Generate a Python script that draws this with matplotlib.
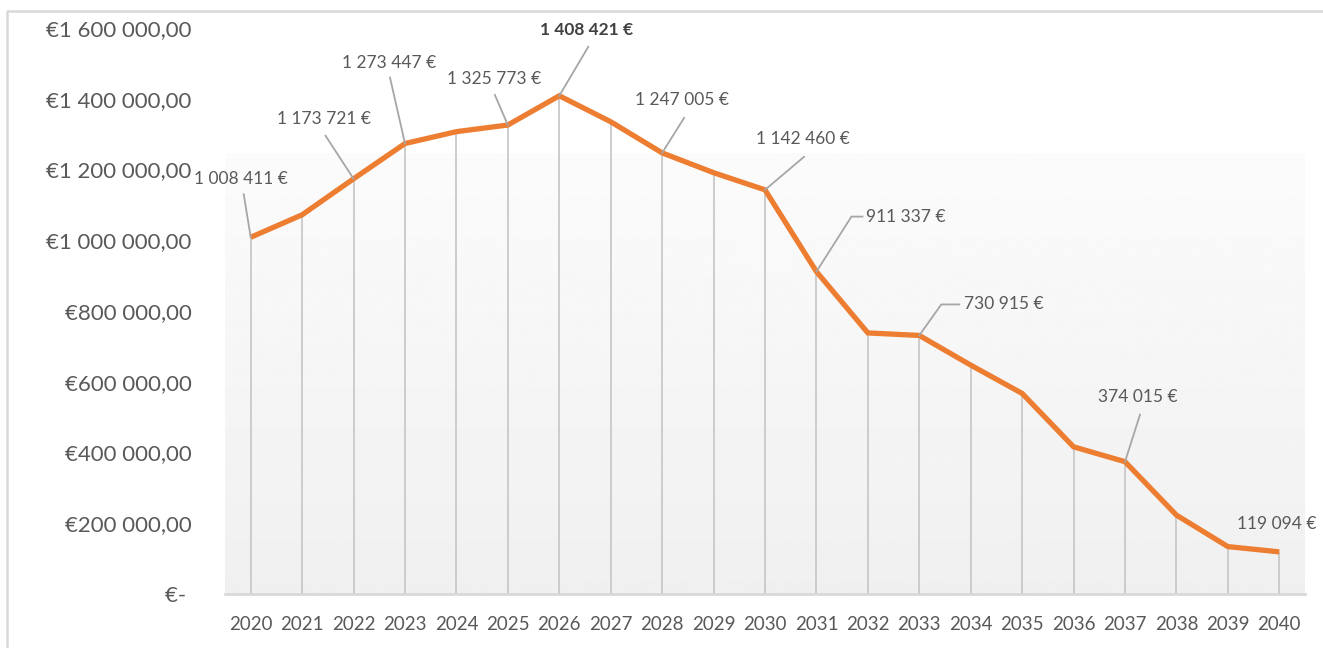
import numpy as np
import matplotlib
matplotlib.use("Agg")
import matplotlib.pyplot as plt
from matplotlib.lines import Line2D
from matplotlib.ticker import FuncFormatter

years = list(range(2020, 2041))
values = [1008411, 1072000, 1173721, 1273447, 1307000, 1325773, 1408421,
          1335000, 1247005, 1191000, 1142460, 911337, 738000, 730915,
          647000, 567000, 416000, 374015, 223000, 134000, 119094]
labeled_years = [2020, 2022, 2023, 2025, 2026, 2028, 2030, 2031, 2033, 2037, 2040]
peak_year = 2026

# label placement in pixels relative to the point: (text dx, text dy, ha, leader vertices)
label_style = {
    2020: (-10, 58, 'center', [(-7, 43)]),
    2022: (-30, 60, 'center', [(-28, 43)]),
    2023: (-16, 81, 'center', [(-15, 66)]),
    2025: (-14, 46, 'center', [(-13, 30)]),
    2026: (27, 66, 'center', [(29, 49)]),
    2028: (20, 53, 'center', [(22, 35)]),
    2030: (38, 51, 'center', [(39, 33)]),
    2031: (50, 55, 'left', [(35, 55), (46, 55)]),
    2033: (45, 31, 'left', [(22, 31), (40, 31)]),
    2037: (13, 65, 'center', [(15, 47)]),
    2040: (-3, 28, 'center', []),
}

ORANGE = '#ED7D31'
TEXT = '#595959'
GRID = '#c9c9c9'

plt.rcParams['font.family'] = ['Lato', 'DejaVu Sans']


def euro_axis(v, pos):
    if v == 0:
        return '€- '
    return '€' + f"{v:,.2f}".replace(',', ' ').replace('.', ',')


def euro_label(v):
    return f"{v:,}".replace(',', ' ') + ' €'


def main():
    fig = plt.figure(figsize=(13.23, 6.48), dpi=100)
    # chart frame: only the top and left edges show in the crop
    fig.lines.append(Line2D([7, 7, 1323], [-5, 637, 637], transform=None,
                            color='#d9d9d9', linewidth=1.8))
    ax = fig.add_axes([225 / 1323, 54 / 648, 1080 / 1323, 566 / 648])
    ax.set_xlim(2019.5, 2040.5)
    ax.set_ylim(0, 1600000)

    # soft gradient behind the plot
    grad = np.linspace(0.94, 0.985, 256).reshape(-1, 1)
    ax.imshow(grad, cmap='gray', vmin=0, vmax=1, aspect='auto', origin='lower',
              extent=[2019.5, 2040.5, 0, 1245000], zorder=0)

    ax.vlines(years, 0, values, color=GRID, linewidth=1.3, zorder=1)
    ax.plot(years, values, color=ORANGE, linewidth=3.8, solid_joinstyle='miter',
            solid_capstyle='butt', zorder=3)

    for s in ['top', 'right', 'left']:
        ax.spines[s].set_visible(False)
    ax.spines['bottom'].set_color('#d9d9d9')
    ax.spines['bottom'].set_linewidth(2)
    ax.set_xticks(years)
    ax.set_xticklabels([str(y) for y in years])
    ax.set_yticks(np.arange(0, 1600001, 200000))
    ax.yaxis.set_major_formatter(FuncFormatter(euro_axis))
    ax.tick_params(axis='x', length=0, pad=16, labelsize=13.5, labelcolor=TEXT)
    ax.tick_params(axis='y', length=0, pad=24, labelsize=16, labelcolor=TEXT)

    for yr in labeled_years:
        v = values[years.index(yr)]
        px, py = ax.transData.transform((yr, v))
        tx, ty, ha, leader = label_style[yr]
        bold = yr == peak_year
        fig.text((px + tx) / fig.bbox.width, (py + ty) / fig.bbox.height, euro_label(v),
                 ha=ha, va='center', fontsize=12.5, color='#404040' if bold else TEXT,
                 fontweight='bold' if bold else 'normal')
        if leader:
            xs = [px] + [px + d[0] for d in leader]
            ys = [py] + [py + d[1] for d in leader]
            fig.lines.append(Line2D(xs, ys, transform=None, color='#a6a6a6', linewidth=1.3))

    fig.savefig('out.png', dpi=100)


if __name__ == "__main__":
    main()
